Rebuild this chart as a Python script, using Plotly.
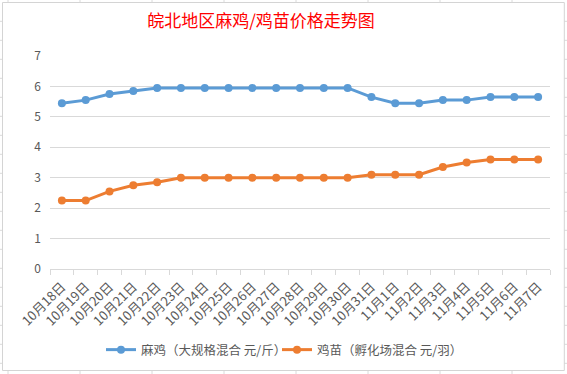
import plotly.graph_objects as go

categories = ["10月18日", "10月19日", "10月20日", "10月21日", "10月22日", "10月23日", "10月24日",
              "10月25日", "10月26日", "10月27日", "10月28日", "10月29日", "10月30日", "10月31日",
              "11月1日", "11月2日", "11月3日", "11月4日", "11月5日", "11月6日", "11月7日"]
maji = [5.45, 5.55, 5.75, 5.85, 5.95, 5.95, 5.95, 5.95, 5.95, 5.95, 5.95, 5.95, 5.95, 5.65,
        5.45, 5.45, 5.55, 5.55, 5.65, 5.65, 5.65]
jimiao = [2.25, 2.25, 2.55, 2.75, 2.85, 3.0, 3.0, 3.0, 3.0, 3.0, 3.0, 3.0, 3.0, 3.1,
          3.1, 3.1, 3.35, 3.5, 3.6, 3.6, 3.6]
series_names = ["麻鸡（大规格混合 元/斤）", "鸡苗（孵化场混合 元/羽）"]
title_text = "皖北地区麻鸡/鸡苗价格走势图"

W, H = 567, 374
L, R, T, B = 50, 550, 56, 269


def px(x):
    return (x - L) / (R - L)


def py(y):
    return (B - y) / (B - T)


FONT = "Noto Sans CJK SC, Microsoft YaHei, sans-serif"
GRID = "#d9d9d9"
TXT = "#595959"

fig = go.Figure()
fig.add_trace(go.Scatter(x=categories, y=maji, name=series_names[0], mode="lines+markers",
                         line=dict(color="#5B9BD5", width=3),
                         marker=dict(color="#5B9BD5", size=8), legend="legend"))
fig.add_trace(go.Scatter(x=categories, y=jimiao, name=series_names[1], mode="lines+markers",
                         line=dict(color="#ED7D31", width=3),
                         marker=dict(color="#ED7D31", size=8), legend="legend2"))

shapes = []
# spreadsheet cell grid behind the chart
for i in range(9):
    x = 8 + 72 * i
    shapes.append(dict(type="line", xref="paper", yref="paper", layer="below",
                       x0=px(x), x1=px(x), y0=py(0), y1=py(H),
                       line=dict(color="#dadada", width=1)))
for k in range(20):
    y = 21.3 + 19.0 * k
    shapes.append(dict(type="line", xref="paper", yref="paper", layer="below",
                       x0=px(0), x1=px(W), y0=py(y), y1=py(y),
                       line=dict(color="#dadada", width=1)))
# chart area
shapes.append(dict(type="rect", xref="paper", yref="paper", layer="below",
                   x0=px(2.5), x1=px(564.3), y0=py(2.5), y1=py(370.5),
                   fillcolor="white", line=dict(color="#d4d4d4", width=1)))

leg_common = dict(orientation="h", xanchor="left", y=py(350), yanchor="middle",
                  font=dict(family=FONT, size=12.5, color=TXT), bgcolor="rgba(0,0,0,0)",
                  itemwidth=30)

fig.update_layout(
    width=W, height=H,
    margin=dict(l=L, r=W - R, t=T, b=H - B, autoexpand=False),
    paper_bgcolor="white", plot_bgcolor="rgba(0,0,0,0)",
    font=dict(family=FONT, color=TXT, size=12),
    title=dict(text=title_text, xref="container", yref="container",
               x=261 / W, xanchor="center", y=1 - 21 / H, yanchor="middle",
               font=dict(family=FONT, size=17, color="#FF0000")),
    showlegend=True,
    legend=dict(x=px(101), **leg_common),
    legend2=dict(x=px(277), **leg_common),
    shapes=shapes,
    hovermode=False,
)
fig.update_xaxes(type="category", range=[-0.5, len(categories) - 0.5],
                 showline=True, linecolor=GRID, linewidth=1,
                 ticks="outside", tickson="boundaries", ticklen=5, tickcolor=GRID,
                 tickangle=-45, tickfont=dict(family=FONT, size=13, color=TXT),
                 ticklabelstandoff=4,
                 showgrid=False, zeroline=False, fixedrange=True, automargin=False)
fig.update_yaxes(range=[0, 7], dtick=1, showgrid=True, gridcolor=GRID, gridwidth=1,
                 zeroline=False, showline=False, ticks="",
                 tickfont=dict(family=FONT, size=12, color=TXT), ticklabelstandoff=8,
                 fixedrange=True, automargin=False)

fig.write_html("out.html", config={"displayModeBar": False},
               post_script="document.body.style.margin='0';")
